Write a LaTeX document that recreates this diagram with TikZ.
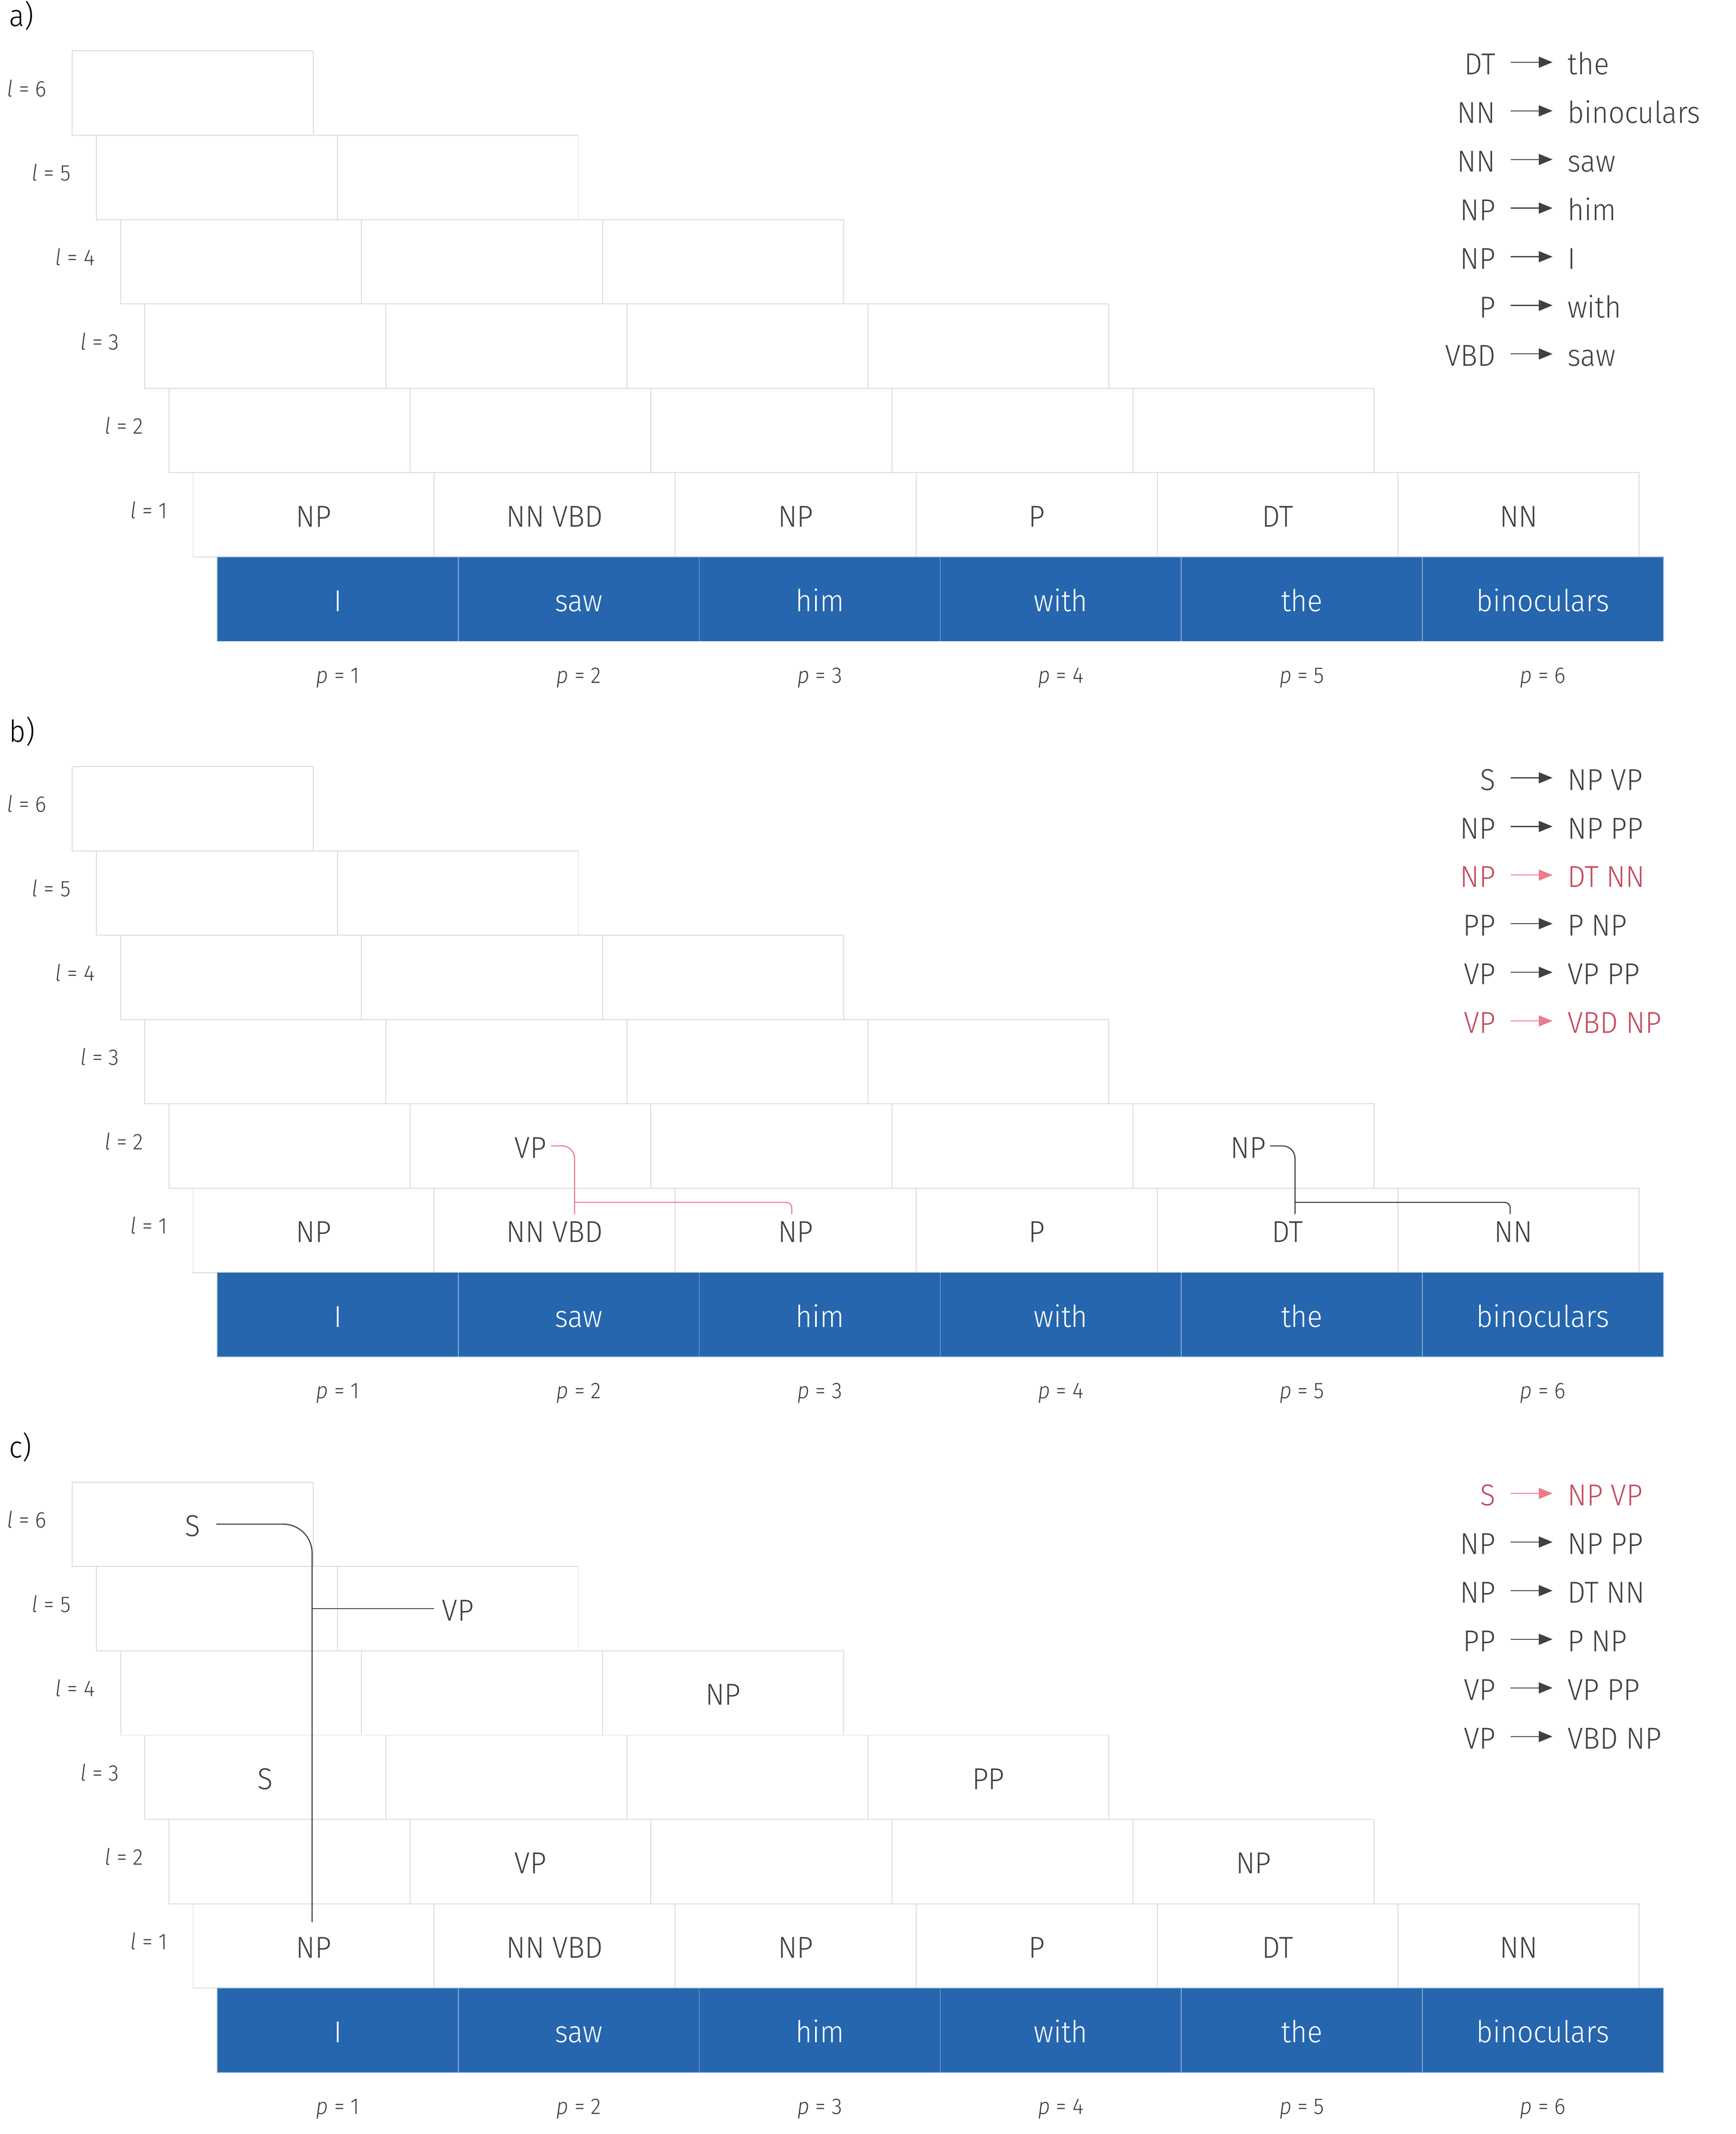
\documentclass[tikz,border=0pt]{standalone}
\usepackage{fontspec}
\setmainfont{Fira Sans Light}[ItalicFont={Fira Sans Light Italic}, FakeStretch=0.94]
\usetikzlibrary{arrows.meta}
\definecolor{ink}{RGB}{64,64,64}
\definecolor{gridgray}{RGB}{218,218,218}
\definecolor{wordblue}{RGB}{37,102,174}
\definecolor{worddiv}{RGB}{150,182,218}
\definecolor{rulered}{RGB}{196,74,92}
\definecolor{linkpink}{RGB}{236,124,140}

\newcommand\cellfont{\fontsize{22}{26}\selectfont}
\newcommand\idxfont{\fontsize{16.5}{20}\selectfont}

\tikzset{
  cellbox/.style={draw=gridgray, line width=0.6pt, minimum width=175.5pt, minimum height=61.4pt, inner sep=0pt, outer sep=0pt, anchor=north west},
  wordbox/.style={cellbox, fill=wordblue, draw=worddiv, line width=0.5pt},
  celltext/.style={font=\cellfont, text=ink, anchor=base, inner sep=0pt, outer sep=0pt, text height=17.6pt, text depth=0pt},
  wordlab/.style={celltext, text=white},
  idxlab/.style={font=\idxfont, text=ink, inner sep=0pt, outer sep=0pt},
  panellab/.style={font=\cellfont, text=black, inner sep=0pt, anchor=base west},
  rulelab/.style={font=\cellfont, inner sep=0pt, outer sep=0pt, text height=17.8pt, text depth=0pt},
  rulearrow/.style={line width=0.7pt, shorten <=11pt, shorten >=11pt, -{Triangle[length=10pt,width=8pt]}},
  darklink/.style={draw=ink, line width=0.8pt},
  pinklink/.style={draw=linkpink, line width=0.8pt}
}

% #1 prefix, #2 vertical offset
\newcommand\chartgrid[2]{%
  \foreach \k in {1,...,6} {
    \pgfmathtruncatemacro\ncells{7-\k}
    \foreach \j in {1,...,\ncells} {
      \node[cellbox] (#1-l\k-c\j) at ({158.2-17.6*\k+(\j-1)*175.5},{37.1+#2+(6-\k)*61.4}) {};
    }
    \node[idxlab, anchor=base east] (#1-lev\k) at ({158.2-17.6*\k-18.7},{70.3+#2+(6-\k)*61.4}) {\textit{l} = \k};
  }
  \foreach \j/\w in {1/I,2/saw,3/him,4/with,5/the,6/binoculars} {
    \node[wordbox] (#1-w\j) at ({158.2+(\j-1)*175.5},{405.5+#2}) {};
    \node[wordlab] (#1-wt\j) at ({158.2+(\j-0.5)*175.5},{445.1+#2}) {\w};
    \node[idxlab, anchor=base] (#1-p\j) at ({158.2+(\j-0.5)*175.5},{497.2+#2}) {\textit{p} = \j};
  }
}

% #1 name, #2 level k, #3 cell j, #4 offset, #5 text, #6 x offset
\newcommand\celllab[6]{%
  \node[celltext] (#1) at ({158.2-17.6*#2+(#3-0.5)*175.5+#6},{76.5+#4+(6-#2)*61.4}) {#5};}

% #1 name, #2 offset, #3 index, #4 lhs, #5 rhs, #6 text colour, #7 arrow colour
\newcommand\grule[7]{%
  \node[rulelab, text=#6, anchor=base east] (#1-L) at (1089,{54.2+#2+35.4*#3}) {#4};
  \node[rulelab, text=#6, anchor=base west] (#1-R) at (1141.5,{54.2+#2+35.4*#3}) {#5};
  \draw[rulearrow, draw=#7] (#1-L) -- (#1-R);}

\begin{document}
\begin{tikzpicture}[x=1pt,y=-1pt]
\useasboundingbox (0,0) rectangle (1264,1553.7);

% ---------------- panel a ----------------
\node[panellab] (a-label) at (6.5,19.2) {a)};
\chartgrid{a}{0}
\foreach \j/\t in {1/NP,2/NN VBD,3/NP,4/P,5/DT,6/NN} {
  \celllab{a-t1-\j}{1}{\j}{0}{\t}{0}
}
\grule{a-r0}{0}{0}{DT}{the}{ink}{ink}
\grule{a-r1}{0}{1}{NN}{binoculars}{ink}{ink}
\grule{a-r2}{0}{2}{NN}{saw}{ink}{ink}
\grule{a-r3}{0}{3}{NP}{him}{ink}{ink}
\grule{a-r4}{0}{4}{NP}{I}{ink}{ink}
\grule{a-r5}{0}{5}{P}{with}{ink}{ink}
\grule{a-r6}{0}{6}{VBD}{saw}{ink}{ink}

% ---------------- panel b ----------------
\node[panellab] (b-label) at (6.5,540.2) {b)};
\chartgrid{b}{521}
\celllab{b-t1-1}{1}{1}{521}{NP}{0}
\celllab{b-t1-2}{1}{2}{521}{NN VBD}{0}
\celllab{b-t1-3}{1}{3}{521}{NP}{0}
\celllab{b-t1-4}{1}{4}{521}{P}{0}
\celllab{b-t1-5}{1}{5}{521}{DT}{7.1}
\celllab{b-t1-6}{1}{6}{521}{NN}{-3.8}
\celllab{b-t2-2}{2}{2}{521}{VP}{0}
\celllab{b-t2-5}{2}{5}{521}{NP}{-3.8}
\grule{b-r0}{521}{0}{S}{NP VP}{ink}{ink}
\grule{b-r1}{521}{1}{NP}{NP PP}{ink}{ink}
\grule{b-r2}{521}{2}{NP}{DT NN}{rulered}{linkpink}
\grule{b-r3}{521}{3}{PP}{P NP}{ink}{ink}
\grule{b-r4}{521}{4}{VP}{VP PP}{ink}{ink}
\grule{b-r5}{521}{5}{VP}{VBD NP}{rulered}{linkpink}
% VP -> VBD NP
\coordinate (b-vp-end) at ([xshift=14.5pt,yshift=3pt]b-t1-2.north);
\coordinate (b-vp-fork) at ([yshift=8.5pt]b-vp-end);
\draw[pinklink, rounded corners=9pt] ([xshift=3.5pt]b-t2-2.east) -| (b-vp-end);
\draw[pinklink, rounded corners=4pt] (b-vp-fork) -| ([xshift=-2.8pt,yshift=3pt]b-t1-3.north);
% NP -> DT NN
\coordinate (b-np-end) at ([xshift=5.5pt,yshift=3pt]b-t1-5.north);
\coordinate (b-np-fork) at ([yshift=8.5pt]b-np-end);
\draw[darklink, rounded corners=9pt] ([xshift=3pt]b-t2-5.east) -| (b-np-end);
\draw[darklink, rounded corners=4pt] (b-np-fork) -| ([xshift=-2.4pt,yshift=3pt]b-t1-6.north);

% ---------------- panel c ----------------
\node[panellab] (c-label) at (6.5,1061.2) {c)};
\chartgrid{c}{1042}
\foreach \j/\t in {1/NP,2/NN VBD,3/NP,4/P,5/DT,6/NN} {
  \celllab{c-t1-\j}{1}{\j}{1042}{\t}{0}
}
\celllab{c-t6-1}{6}{1}{1042}{S}{0}
\celllab{c-t5-2}{5}{2}{1042}{VP}{0}
\celllab{c-t4-3}{4}{3}{1042}{NP}{0}
\celllab{c-t3-1}{3}{1}{1042}{S}{0}
\celllab{c-t3-4}{3}{4}{1042}{PP}{0}
\celllab{c-t2-2}{2}{2}{1042}{VP}{0}
\celllab{c-t2-5}{2}{5}{1042}{NP}{0}
\grule{c-r0}{1042}{0}{S}{NP VP}{rulered}{linkpink}
\grule{c-r1}{1042}{1}{NP}{NP PP}{ink}{ink}
\grule{c-r2}{1042}{2}{NP}{DT NN}{ink}{ink}
\grule{c-r3}{1042}{3}{PP}{P NP}{ink}{ink}
\grule{c-r4}{1042}{4}{VP}{VP PP}{ink}{ink}
\grule{c-r5}{1042}{5}{VP}{VBD NP}{ink}{ink}
% S -> NP VP
\coordinate (c-trunk) at ([xshift=-1.1pt,yshift=8.5pt]c-t1-1.north);
\draw[darklink, rounded corners=21pt] ([xshift=11.6pt]c-t6-1.east) -| (c-trunk);
\draw[darklink] ([xshift=-6pt]c-t5-2.west) -- (c-trunk |- c-t5-2.west);
\end{tikzpicture}
\end{document}
